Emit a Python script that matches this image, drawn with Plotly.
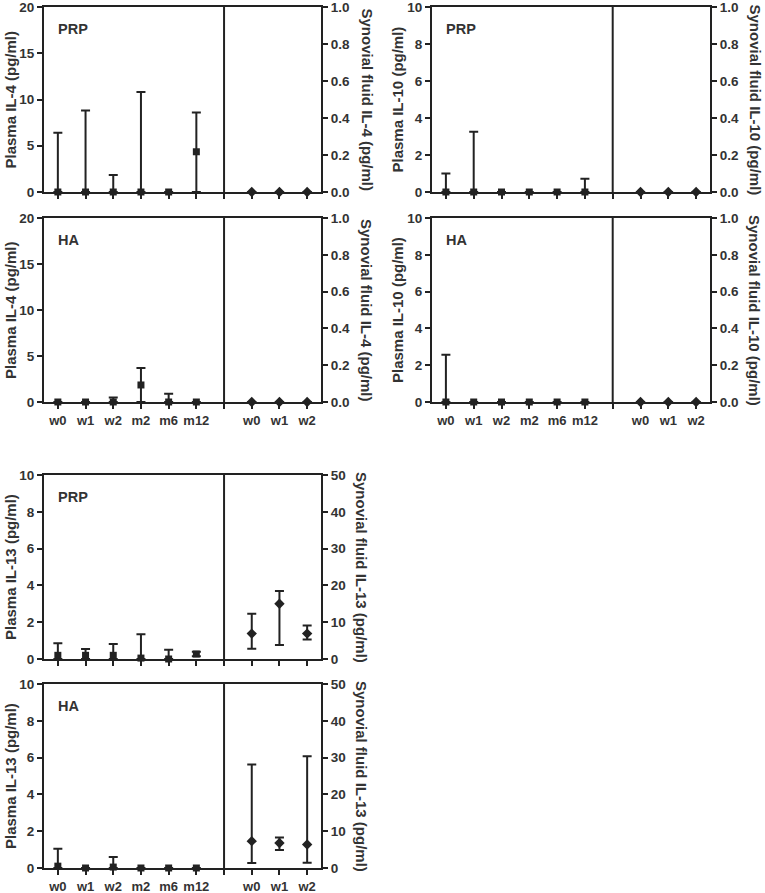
"""Plasma and synovial fluid IL-4 / IL-10 / IL-13 after PRP or HA injection."""
import plotly.graph_objects as go

PLASMA_TIMES = ["w0", "w1", "w2", "m2", "m6", "m12"]
SYNOVIAL_TIMES = ["w0", "w1", "w2"]

# median, lower quartile, upper quartile
IL4_PRP_PLASMA_MED = [0, 0, 0, 0, 0, 4.35]
IL4_PRP_PLASMA_LO = [0, 0, 0, 0, 0, 0]
IL4_PRP_PLASMA_HI = [6.4, 8.8, 1.85, 10.8, 0, 8.6]
IL4_PRP_SYN_MED = [0, 0, 0]
IL4_PRP_SYN_LO = [0, 0, 0]
IL4_PRP_SYN_HI = [0, 0, 0]

IL4_HA_PLASMA_MED = [0, 0, 0, 1.85, 0, 0]
IL4_HA_PLASMA_LO = [0, 0, 0, 0, 0, 0]
IL4_HA_PLASMA_HI = [0, 0, 0.5, 3.7, 0.9, 0]
IL4_HA_SYN_MED = [0, 0, 0]
IL4_HA_SYN_LO = [0, 0, 0]
IL4_HA_SYN_HI = [0, 0, 0]

IL10_PRP_PLASMA_MED = [0, 0, 0, 0, 0, 0]
IL10_PRP_PLASMA_LO = [0, 0, 0, 0, 0, 0]
IL10_PRP_PLASMA_HI = [1.0, 3.25, 0, 0, 0, 0.72]
IL10_PRP_SYN_MED = [0, 0, 0]
IL10_PRP_SYN_LO = [0, 0, 0]
IL10_PRP_SYN_HI = [0, 0, 0]

IL10_HA_PLASMA_MED = [0, 0, 0, 0, 0, 0]
IL10_HA_PLASMA_LO = [0, 0, 0, 0, 0, 0]
IL10_HA_PLASMA_HI = [2.57, 0, 0, 0, 0, 0]
IL10_HA_SYN_MED = [0, 0, 0]
IL10_HA_SYN_LO = [0, 0, 0]
IL10_HA_SYN_HI = [0, 0, 0]

IL13_PRP_PLASMA_MED = [0.2, 0.2, 0.2, 0.05, 0, 0.27]
IL13_PRP_PLASMA_LO = [0, 0, 0, 0, 0, 0.15]
IL13_PRP_PLASMA_HI = [0.85, 0.55, 0.82, 1.34, 0.5, 0.4]
IL13_PRP_SYN_MED = [6.9, 15.0, 6.9]
IL13_PRP_SYN_LO = [2.8, 3.8, 5.3]
IL13_PRP_SYN_HI = [12.3, 18.5, 9.1]

IL13_HA_PLASMA_MED = [0.1, 0, 0.05, 0, 0, 0]
IL13_HA_PLASMA_LO = [0, 0, 0, 0, 0, 0]
IL13_HA_PLASMA_HI = [1.05, 0, 0.6, 0, 0, 0]
IL13_HA_SYN_MED = [7.3, 6.8, 6.4]
IL13_HA_SYN_LO = [1.35, 4.9, 1.4]
IL13_HA_SYN_HI = [28.1, 8.3, 30.4]

W, H = 765, 893
INK = "#222222"
TEXT = "#333333"
FONT = "Liberation Sans, Arial, sans-serif"

PLASMA_X = list(range(1, len(PLASMA_TIMES) + 1))
DIVIDER_X = len(PLASMA_TIMES) + 1
SYN_X = [DIVIDER_X + 1 + i for i in range(len(SYNOVIAL_TIMES))]

fig = go.Figure()
layout = dict(
    width=W,
    height=H,
    margin=dict(l=0, r=0, t=0, b=0, autoexpand=False),
    paper_bgcolor="white",
    plot_bgcolor="white",
    showlegend=False,
    font=dict(family=FONT, color=TEXT),
)
annotations = []
shapes = []


def ax_id(letter, n):
    return letter if n == 1 else f"{letter}{n}"


def errs(med, lo, hi):
    up = [h - m for m, h in zip(med, hi)]
    down = [m - l for m, l in zip(med, lo)]
    return up, down


def add_panel(i, px_x, px_y, plasma, syn, left_rng, left_dtick, right_rng,
              right_dtick, right_fmt, left_title, right_title, label, xlabels,
              title_x):
    xr = ax_id("x", i)
    yl = ax_id("y", 2 * i - 1)
    yr = ax_id("y", 2 * i)
    xa = xr.replace("x", "xaxis")
    ya_l = yl.replace("y", "yaxis")
    ya_r = yr.replace("y", "yaxis")
    x0, x1 = px_x[0] / W, px_x[1] / W
    y0, y1 = 1 - px_y[1] / H, 1 - px_y[0] / H

    axis_common = dict(
        showline=True, linecolor=INK, linewidth=2, ticks="outside",
        ticklen=5, tickwidth=2, tickcolor=INK, showgrid=False,
        zeroline=False, fixedrange=True, automargin=False,
        ticklabeloverflow="allow",
    )
    layout[xa] = dict(
        axis_common, domain=[x0, x1], anchor=yl, range=[0.5, SYN_X[-1] + 0.5],
        tickvals=PLASMA_X + [DIVIDER_X] + SYN_X,
        ticktext=PLASMA_TIMES + [""] + SYNOVIAL_TIMES,
        showticklabels=xlabels, mirror=True,
        tickfont=dict(size=13, family=FONT, color=TEXT, weight="bold"),
    )
    layout[ya_l] = dict(
        axis_common, domain=[y0, y1], anchor=xr, range=left_rng,
        dtick=left_dtick, tick0=0, side="left",
        tickfont=dict(size=13.5, family=FONT, color=TEXT, weight="bold"),
    )
    layout[ya_r] = dict(
        axis_common, domain=[y0, y1], anchor=xr, overlaying=yl, range=right_rng,
        dtick=right_dtick, tick0=0, side="right", tickformat=right_fmt,
        tickfont=dict(size=13.5, family=FONT, color=TEXT, weight="bold"),
    )

    up, down = errs(*plasma)
    fig.add_trace(go.Scatter(
        x=PLASMA_X, y=plasma[0], xaxis=xr, yaxis=yl, mode="markers",
        marker=dict(symbol="square", size=7, color=INK),
        error_y=dict(type="data", symmetric=False, array=up, arrayminus=down,
                     color=INK, thickness=2, width=4.5),
        cliponaxis=False, hoverinfo="skip",
    ))
    up, down = errs(*syn)
    fig.add_trace(go.Scatter(
        x=SYN_X, y=syn[0], xaxis=xr, yaxis=yr, mode="markers",
        marker=dict(symbol="diamond", size=8, color=INK),
        error_y=dict(type="data", symmetric=False, array=up, arrayminus=down,
                     color=INK, thickness=2, width=4.5),
        cliponaxis=False, hoverinfo="skip",
    ))

    shapes.append(dict(
        type="line", xref=xr, yref=f"{yl} domain", x0=DIVIDER_X, x1=DIVIDER_X,
        y0=0, y1=1, line=dict(color=INK, width=2),
    ))
    yc = (y0 + y1) / 2
    title_font = dict(size=15, family=FONT, color=TEXT, weight="bold")
    annotations.append(dict(
        text=left_title, xref="paper", yref="paper", x=title_x[0] / W, y=yc,
        textangle=-90, showarrow=False, xanchor="center", yanchor="middle",
        font=title_font,
    ))
    annotations.append(dict(
        text=right_title, xref="paper", yref="paper", x=title_x[1] / W, y=yc,
        textangle=90, showarrow=False, xanchor="center", yanchor="middle",
        font=title_font,
    ))
    annotations.append(dict(
        text=label, xref="paper", yref="paper", x=(px_x[0] + 12) / W,
        y=1 - (px_y[0] + 22) / H, showarrow=False, xanchor="left",
        yanchor="middle",
        font=dict(size=14.5, family=FONT, color=TEXT, weight="bold"),
    ))


LEFT_X = (44, 321)
RIGHT_X = (432, 710)

add_panel(1, LEFT_X, (7, 192),
          (IL4_PRP_PLASMA_MED, IL4_PRP_PLASMA_LO, IL4_PRP_PLASMA_HI),
          (IL4_PRP_SYN_MED, IL4_PRP_SYN_LO, IL4_PRP_SYN_HI),
          [0, 20], 5, [0, 1], 0.2, ".1f",
          "Plasma IL-4 (pg/ml)", "Synovial fluid IL-4 (pg/ml)", "PRP", False,
          (10, 367))
add_panel(2, LEFT_X, (218, 402),
          (IL4_HA_PLASMA_MED, IL4_HA_PLASMA_LO, IL4_HA_PLASMA_HI),
          (IL4_HA_SYN_MED, IL4_HA_SYN_LO, IL4_HA_SYN_HI),
          [0, 20], 5, [0, 1], 0.2, ".1f",
          "Plasma IL-4 (pg/ml)", "Synovial fluid IL-4 (pg/ml)", "HA", True,
          (10, 367))
add_panel(3, RIGHT_X, (7, 192),
          (IL10_PRP_PLASMA_MED, IL10_PRP_PLASMA_LO, IL10_PRP_PLASMA_HI),
          (IL10_PRP_SYN_MED, IL10_PRP_SYN_LO, IL10_PRP_SYN_HI),
          [0, 10], 2, [0, 1], 0.2, ".1f",
          "Plasma IL-10 (pg/ml)", "Synovial fluid IL-10 (pg/ml)", "PRP", False,
          (397, 755))
add_panel(4, RIGHT_X, (218, 402),
          (IL10_HA_PLASMA_MED, IL10_HA_PLASMA_LO, IL10_HA_PLASMA_HI),
          (IL10_HA_SYN_MED, IL10_HA_SYN_LO, IL10_HA_SYN_HI),
          [0, 10], 2, [0, 1], 0.2, ".1f",
          "Plasma IL-10 (pg/ml)", "Synovial fluid IL-10 (pg/ml)", "HA", True,
          (397, 755))
add_panel(5, LEFT_X, (475, 659),
          (IL13_PRP_PLASMA_MED, IL13_PRP_PLASMA_LO, IL13_PRP_PLASMA_HI),
          (IL13_PRP_SYN_MED, IL13_PRP_SYN_LO, IL13_PRP_SYN_HI),
          [0, 10], 2, [0, 50], 10, "d",
          "Plasma IL-13 (pg/ml)", "Synovial fluid IL-13 (pg/ml)", "PRP", False,
          (10, 362))
add_panel(6, LEFT_X, (684, 868),
          (IL13_HA_PLASMA_MED, IL13_HA_PLASMA_LO, IL13_HA_PLASMA_HI),
          (IL13_HA_SYN_MED, IL13_HA_SYN_LO, IL13_HA_SYN_HI),
          [0, 10], 2, [0, 50], 10, "d",
          "Plasma IL-13 (pg/ml)", "Synovial fluid IL-13 (pg/ml)", "HA", True,
          (10, 362))

layout["annotations"] = annotations
layout["shapes"] = shapes
fig.update_layout(**layout)

# the page's default 8px body margin would push the figure off the window
fig.write_html(
    "out.html",
    config={"displayModeBar": False},
    post_script="document.body.style.margin = '0';",
)
